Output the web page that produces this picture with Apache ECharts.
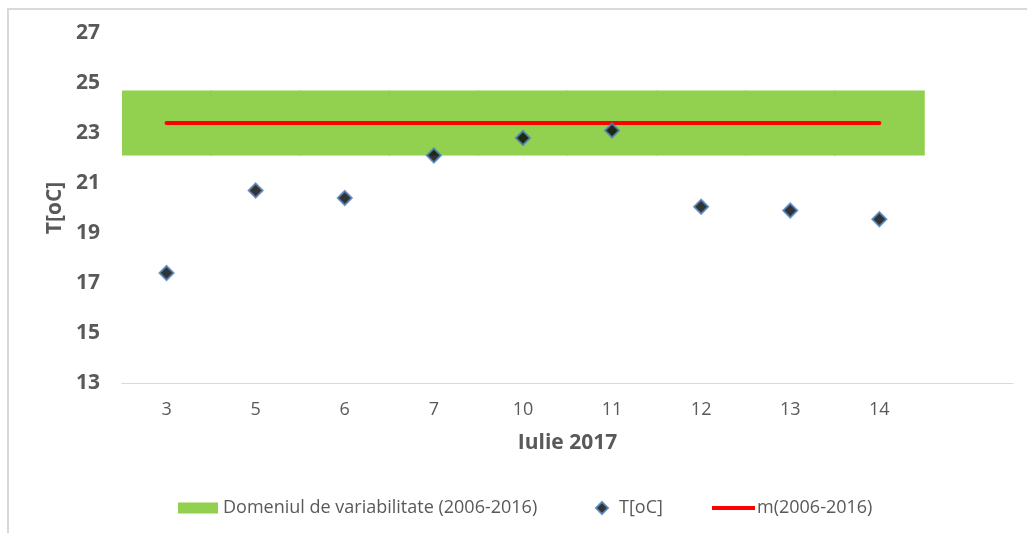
<!DOCTYPE html>
<html>
<head>
<meta charset="utf-8">
<script src="https://cdn.jsdelivr.net/npm/echarts@6/dist/echarts.min.js"></script>
<style>html,body{margin:0;padding:0;background:#fff}#c{width:1027px;height:533px}</style>
</head>
<body>
<div id="c"></div>
<script>
var categories = ['3', '5', '6', '7', '10', '11', '12', '13', '14', ''];
var tValues = [17.4, 20.7, 20.4, 22.1, 22.8, 23.1, 20.05, 19.9, 19.55, null];
var bandMin = [22.1, 22.1, 22.1, 22.1, 22.1, 22.1, 22.1, 22.1, 22.1, null];
var bandMax = [24.7, 24.7, 24.7, 24.7, 24.7, 24.7, 24.7, 24.7, 24.7, null];
var meanValues = [23.4, 23.4, 23.4, 23.4, 23.4, 23.4, 23.4, 23.4, 23.4, null];
var yTicks = [13, 15, 17, 19, 21, 23, 25, 27];

var bandHeight = bandMax.map(function (v, i) { return v == null ? null : +(v - bandMin[i]).toFixed(2); });
var FONT = '"Open Sans", "Noto Sans", sans-serif';

var chart = echarts.init(document.getElementById('c'), null, { renderer: 'canvas' });
chart.setOption({
  animation: false,
  backgroundColor: '#ffffff',
  textStyle: { fontFamily: FONT },
  graphic: [{
    type: 'rect', shape: { x: 8, y: 9, width: 1040, height: 560 },
    style: { fill: 'none', stroke: '#d9d9d9', lineWidth: 2 }, silent: true
  }],
  grid: { left: 122, right: 14, top: 33, bottom: 150 },
  legend: [
    { left: 173, top: 494, itemWidth: 40, itemHeight: 11, data: [{ name: 'Domeniul de variabilitate (2006-2016)', icon: 'rect' }],
      textStyle: { color: '#595959', fontSize: 18, fontFamily: FONT } },
    { left: 590, top: 494, itemWidth: 12, itemHeight: 12, data: ['T[oC]'],
      textStyle: { color: '#595959', fontSize: 18, fontFamily: FONT, padding: [0, 0, 0, 6] } },
    { left: 707, top: 494, itemWidth: 43, itemHeight: 4, data: [{ name: 'm(2006-2016)', icon: 'rect' }],
      textStyle: { color: '#595959', fontSize: 18, fontFamily: FONT, padding: [0, 0, 0, -3] } }
  ],
  xAxis: {
    type: 'category', data: categories,
    name: 'Iulie 2017', nameLocation: 'middle', nameGap: 50,
    nameTextStyle: { color: '#595959', fontSize: 21, fontWeight: 'bold', fontFamily: FONT },
    axisLine: { lineStyle: { color: '#d9d9d9', width: 1 } },
    axisTick: { show: false },
    axisLabel: { color: '#595959', fontSize: 18, margin: 18, fontFamily: FONT },
    splitLine: { show: false }
  },
  yAxis: {
    type: 'value', min: 13, max: 27, interval: 2,
    name: 'T[oC]', nameLocation: 'middle', nameGap: 55, nameRotate: 90,
    nameTextStyle: { color: '#595959', fontSize: 21, fontWeight: 'bold', fontFamily: FONT },
    axisLine: { show: false }, axisTick: { show: false },
    splitLine: { show: false },
    axisLabel: { color: '#595959', fontSize: 21, fontWeight: 'bold', margin: 22, fontFamily: FONT,
      formatter: function (v) { return yTicks.indexOf(v) >= 0 ? String(v) : ''; } }
  },
  series: [
    { name: 'base', type: 'bar', stack: 'band', data: bandMin, barWidth: '102%', barCategoryGap: '0%',
      itemStyle: { color: 'rgba(0,0,0,0)' }, silent: true, z: 1 },
    { name: 'Domeniul de variabilitate (2006-2016)', type: 'bar', stack: 'band', data: bandHeight,
      barWidth: '102%', itemStyle: { color: '#92D050' }, z: 1 },
    { name: 'm(2006-2016)', type: 'line', data: meanValues, symbol: 'none',
      lineStyle: { color: '#FF0000', width: 4, cap: 'round' }, itemStyle: { color: '#FF0000' }, z: 3 },
    { name: 'T[oC]', type: 'scatter', data: tValues, symbol: 'diamond', symbolSize: 14,
      itemStyle: { color: '#000000', borderColor: '#4f81bd', borderWidth: 2 }, z: 4 }
  ]
});
</script>
</body>
</html>
